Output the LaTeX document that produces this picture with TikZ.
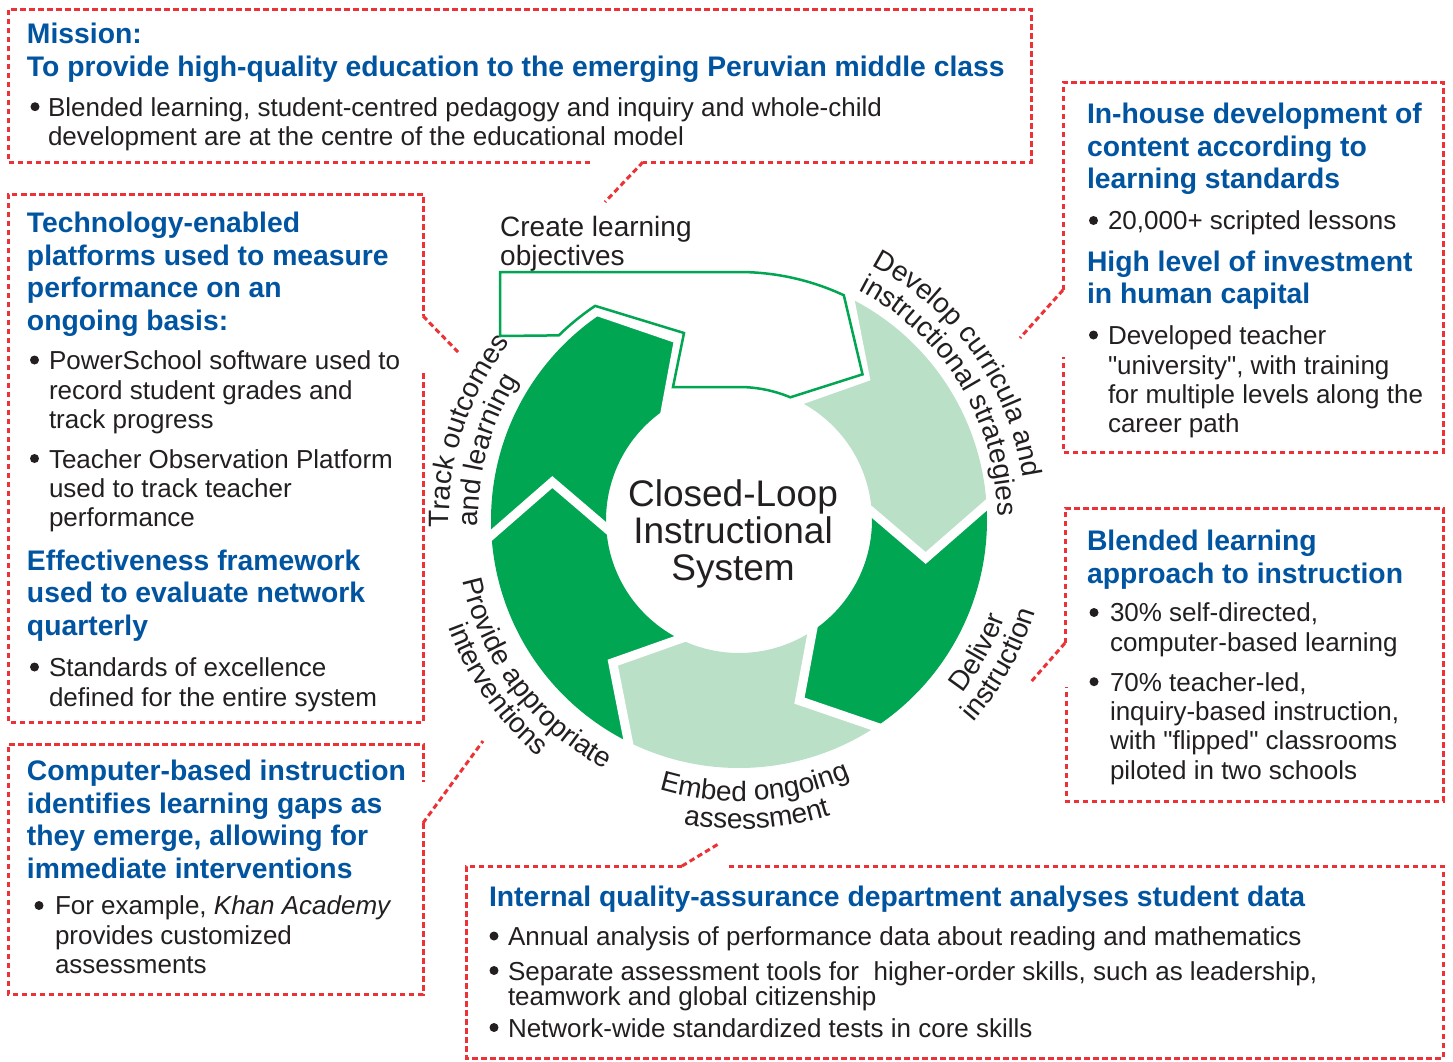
\documentclass[tikz,border=0pt]{standalone}
\usepackage{fontspec}
\setmainfont{Liberation Sans}
\usetikzlibrary{decorations.text,calc}
\definecolor{dkgreen}{RGB}{0,166,81}
\definecolor{ltgreen}{RGB}{186,224,199}
\definecolor{hblue}{RGB}{0,84,160}
\definecolor{rdash}{RGB}{237,50,55}
\definecolor{txt}{RGB}{35,31,32}
\newcommand\hdfont{\fontsize{28.3}{32.5}\selectfont\bfseries}
\newcommand\blfont{\fontsize{26}{29.4}\selectfont}
\newcommand\blfonttight{\fontsize{26}{25}\selectfont}
\newcommand\rlfont{\fontsize{28}{29}\selectfont}
\newcommand\ctfont{\fontsize{37}{37.2}\selectfont}
\font\qfnt="Liberation Sans" at 26pt
\newcommand\sq{{\qfnt\char34}}
\tikzset{
  boxline/.style={draw=rdash, line width=3pt, dash pattern=on 5.5pt off 3.5pt},
  hd/.style={anchor=north west, inner sep=0pt, outer sep=0pt, align=left, font=\hdfont, text=hblue},
  bl/.style={anchor=north west, inner sep=0pt, outer sep=0pt, align=left, font=\blfont, text=txt},
  bdot/.style={fill=txt},
  sepline/.style={draw=white, line width=9pt, line join=miter, line cap=butt},
  arrowoutline/.style={draw=dkgreen, fill=white, line width=2.5pt, line join=miter},
  lbl/.style={decorate, decoration={text along path, text color=txt}},
}
\begin{document}
\begin{tikzpicture}[x=1pt,y=1pt]
\fill[white] (0,0) rectangle (1453,-1061);
\useasboundingbox (0,0) rectangle (1453,-1061);

% ---------------- ring ----------------
\begin{scope}[shift={(739,-520)}]
 \fill[ltgreen] (63.5:248) arc[start angle=63.5,end angle=3.5,radius=248] -- (-11.5:190.5) -- (3.5:133) arc[start angle=3.5,end angle=63.5,radius=133] -- (48.5:190.5) -- cycle;
 \fill[dkgreen] (3.5:248) arc[start angle=3.5,end angle=-56.5,radius=248] -- (-71.5:190.5) -- (-56.5:133) arc[start angle=-56.5,end angle=3.5,radius=133] -- (-11.5:190.5) -- cycle;
 \fill[ltgreen] (-56.5:248) arc[start angle=-56.5,end angle=-116.5,radius=248] -- (-131.5:190.5) -- (-116.5:133) arc[start angle=-116.5,end angle=-56.5,radius=133] -- (-71.5:190.5) -- cycle;
 \fill[dkgreen] (243.5:248) arc[start angle=243.5,end angle=183.5,radius=248] -- (168.5:190.5) -- (183.5:133) arc[start angle=183.5,end angle=243.5,radius=133] -- (228.5:190.5) -- cycle;
 \fill[dkgreen] (183.5:248) arc[start angle=183.5,end angle=123.5,radius=248] -- (108.5:190.5) -- (123.5:133) arc[start angle=123.5,end angle=183.5,radius=133] -- (168.5:190.5) -- cycle;
 \foreach \g/\t in {3.5/-11.5, 63.5/48.5, 123.5/108.5, 183.5/168.5, 243.5/228.5, 303.5/288.5}
   \draw[sepline] ($(\t:190.5)!1.15!(\g:248)$) -- (\t:190.5) -- ($(\t:190.5)!1.15!(\g:133)$);
 % outlined top arrow
 \draw[arrowoutline] (-239,248) -- (0,248) arc[start angle=90,end angle=65,radius=248]
   -- (49.7:191) -- (67.3:133) arc[start angle=67.3,end angle=90,radius=133]
   -- (-66,133) -- (-55,187) -- (123.9:258) arc[start angle=123.9,end angle=134.3,radius=258]
   -- (-239,184) -- cycle;
 % curved labels
 \path[lbl, decoration={text align=left, text={|\rlfont|Track outcomes}}] (181.5:290) arc[start angle=181.5,end angle=90,radius=290];
 \path[lbl, decoration={text align=left, text={|\rlfont|and learning}}] (181.5:261) arc[start angle=181.5,end angle=90,radius=261];
 \path[lbl, decoration={text align=left, text={|\rlfont|Develop curricula and}}] (62.5:287) arc[start angle=62.5,end angle=-30,radius=287];
 \path[lbl, decoration={text align=left, text={|\rlfont|instructional strategies}}] (62.5:259) arc[start angle=62.5,end angle=-30,radius=259];
 \path[lbl, decoration={text align=center, text={|\rlfont|Deliver}}] (-79:283) arc[start angle=-79,end angle=21,radius=283];
 \path[lbl, decoration={text align=center, text={|\rlfont|instruction}}] (-79:310) arc[start angle=-79,end angle=21,radius=310];
 \path[lbl, decoration={text align=center, text={|\rlfont|Embed ongoing}}] (-146.5:281) arc[start angle=-146.5,end angle=-26.5,radius=281];
 \path[lbl, decoration={text align=center, text={|\rlfont|assessment}}] (-146.5:309) arc[start angle=-146.5,end angle=-26.5,radius=309];
 \path[lbl, decoration={text align=center, text={|\rlfont|Provide appropriate}}] (157:283) arc[start angle=157,end angle=277,radius=283];
 \path[lbl, decoration={text align=center, text={|\rlfont|interventions}}] (155:310) arc[start angle=155,end angle=275,radius=310];
\end{scope}

\node[anchor=north west, inner sep=0pt, align=left, font=\rlfont, text=txt] (create) at (500,-216) {Create learning\\objectives};
\node[anchor=north, inner sep=0pt, align=center, font=\ctfont, text=txt] (centre) at (733,-479.5) {Closed-Loop\\Instructional\\System};

% ---------------- box 1: mission ----------------
\draw[boxline] (590,-162) -- (8,-162) -- (8,-9) -- (1031,-9) -- (1031,-162) -- (643,-162);
\coordinate (m1) at (643,-162); \coordinate (m2) at (605,-202);
\draw[boxline] (m1) -- (m2);
\node[hd] (missionhd) at (27,-23) {Mission:\\To provide high-quality education to the emerging Peruvian middle class};
\fill[bdot] (35,-106.7) circle (4.5);
\node[bl] (missionb) at (48,-97.4) {Blended learning, student-centred pedagogy and inquiry and whole-child\\development are at the centre of the educational model};

% ---------------- box 2: in-house ----------------
\draw[boxline] (1063,-290) -- (1063,-82) -- (1443,-82) -- (1443,-452) -- (1063,-452) -- (1063,-357);
\coordinate (i1) at (1063,-290); \coordinate (i2) at (1020,-338);
\draw[boxline] (i1) -- (i2);
\node[hd] (inhousehd) at (1087,-103) {In-house development of\\content according to\\learning standards};
\fill[bdot] (1093.5,-220.5) circle (4.5);
\node[bl] (inhouseb) at (1108,-210.9) {20,000+ scripted lessons};
\node[hd] (humanhd) at (1087,-250.5) {High level of investment\\in human capital};
\fill[bdot] (1093.5,-335) circle (4.5);
\node[bl] (humanb) at (1108,-325.9) {Developed teacher\\\sq university\sq, with training\\for multiple levels along the\\career path};

% ---------------- box 3: technology ----------------
\draw[boxline] (423,-373) -- (423,-722) -- (8,-722) -- (8,-194) -- (423,-194) -- (423,-316);
\coordinate (t1) at (423,-316); \coordinate (t2) at (458,-352);
\draw[boxline] (t1) -- (t2);
\node[hd] (techhd) at (27,-212) {Technology-enabled\\platforms used to measure\\performance on an\\ongoing basis:};
\fill[bdot] (34.5,-360) circle (4.5);
\node[bl] (techb1) at (49,-350.8) {PowerSchool software used to\\record student grades and\\track progress};
\fill[bdot] (34.5,-458.5) circle (4.5);
\node[bl] (techb2) at (49,-449.3) {Teacher Observation Platform\\used to track teacher\\performance};
\node[hd] (effhd) at (27,-549.5) {Effectiveness framework\\used to evaluate network\\quarterly};
\fill[bdot] (34.5,-667) circle (4.5);
\node[bl] (effb) at (49,-657.8) {Standards of excellence\\defined for the entire system};

% ---------------- box 4: computer-based ----------------
\draw[boxline] (423,-823) -- (423,-994) -- (8,-994) -- (8,-744) -- (423,-744) -- (423,-782);
\coordinate (c1) at (423,-823); \coordinate (c2) at (483,-741);
\draw[boxline] (c1) -- (c2);
\node[hd] (comphd) at (27,-760) {Computer-based instruction\\identifies learning gaps as\\they emerge, allowing for\\immediate interventions};
\fill[bdot] (39,-905.5) circle (4.5);
\node[bl] (compb) at (55,-895.8) {For example, \textit{Khan Academy}\\provides customized\\assessments};

% ---------------- box 5: blended ----------------
\draw[boxline] (1065,-643) -- (1065,-508) -- (1443,-508) -- (1443,-801) -- (1066,-801) -- (1066,-687);
\coordinate (b1) at (1065,-643); \coordinate (b2) at (1030,-683);
\draw[boxline] (b1) -- (b2);
\node[hd] (blendhd) at (1087,-530) {Blended learning\\approach to instruction};
\fill[bdot] (1094,-612.5) circle (4.5);
\node[bl] (blendb1) at (1110,-603.1) {30\% self-directed,\\computer-based learning};
\fill[bdot] (1094,-681.7) circle (4.5);
\node[bl] (blendb2) at (1110,-672.3) {70\% teacher-led,\\inquiry-based instruction,\\with \sq flipped\sq\ classrooms\\piloted in two schools};

% ---------------- box 6: quality assurance ----------------
\draw[boxline] (682,-866) -- (466,-866) -- (466,-1058) -- (1443,-1058) -- (1443,-866) -- (729,-866);
\coordinate (q1) at (682,-866); \coordinate (q2) at (720,-843);
\draw[boxline] (q1) -- (q2);
\node[hd] (qahd) at (489,-885.5) {Internal quality-assurance department analyses student data};
\fill[bdot] (494,-936) circle (4.5);
\node[bl] (qab1) at (508,-926.8) {Annual analysis of performance data about reading and mathematics};
\fill[bdot] (494,-970.5) circle (4.5);
\node[bl, font=\blfonttight] (qab2) at (508,-961.3) {Separate assessment tools for\ \ higher-order skills, such as leadership,\\teamwork and global citizenship};
\fill[bdot] (494,-1027.5) circle (4.5);
\node[bl] (qab3) at (508,-1018.3) {Network-wide standardized tests in core skills};
\end{tikzpicture}
\end{document}
